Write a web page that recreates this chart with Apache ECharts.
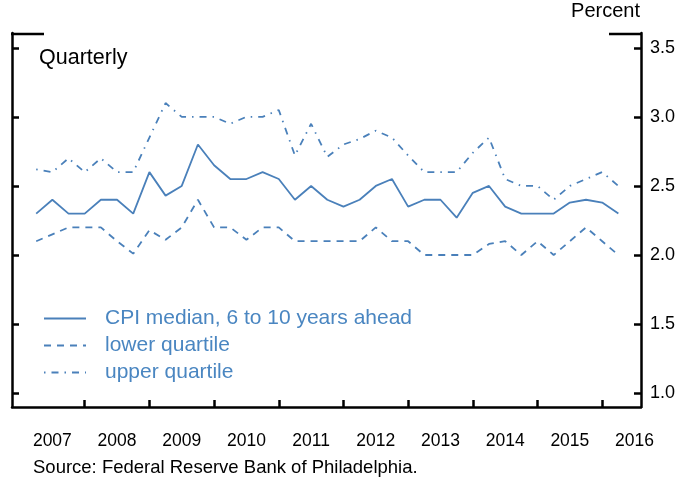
<!DOCTYPE html>
<html>
<head>
<meta charset="utf-8">
<style>
  html, body { margin: 0; padding: 0; background: #fff; }
  #chart { width: 695px; height: 483px; }
</style>
<script src="https://cdn.jsdelivr.net/npm/echarts@6/dist/echarts.min.js"></script>
</head>
<body>
<div id="chart"></div>
<script>
// quarters 2007Q1 .. 2016Q1, placed at quarter end (year + q/4)
var startYear = 2007;
var quarterCount = 37;
var medianCpi = [2.30, 2.40, 2.30, 2.30, 2.40, 2.40, 2.30, 2.60, 2.43, 2.50, 2.80, 2.65, 2.55,
                 2.55, 2.60, 2.55, 2.40, 2.50, 2.40, 2.35, 2.40, 2.50, 2.55, 2.35, 2.40, 2.40, 2.27,
                 2.45, 2.50, 2.35, 2.30, 2.30, 2.30, 2.38, 2.40, 2.38, 2.30];
var lowerQuartile = [2.10, 2.15, 2.20, 2.20, 2.20, 2.10, 2.01, 2.18, 2.11, 2.20, 2.40, 2.20, 2.20,
                     2.11, 2.20, 2.20, 2.10, 2.10, 2.10, 2.10, 2.10, 2.20, 2.10, 2.10, 2.00, 2.00, 2.00,
                     2.00, 2.08, 2.10, 2.00, 2.10, 2.00, 2.10, 2.20, 2.10, 2.00];
var upperQuartile = [2.62, 2.60, 2.70, 2.60, 2.70, 2.60, 2.60, 2.85, 3.10, 3.00, 3.00, 3.00, 2.95,
                     3.00, 3.00, 3.05, 2.72, 2.95, 2.71, 2.80, 2.84, 2.90, 2.85, 2.72, 2.60, 2.60, 2.60,
                     2.74, 2.85, 2.55, 2.50, 2.50, 2.40, 2.50, 2.55, 2.60, 2.50];
var yearLabels = [2007, 2008, 2009, 2010, 2011, 2012, 2013, 2014, 2015, 2016];
var yTicks = [1.0, 1.5, 2.0, 2.5, 3.0, 3.5];

var seriesNames = ['CPI median, 6 to 10 years ahead', 'lower quartile', 'upper quartile'];
var lineColor = '#4a80ba';
var textColor = '#4a86c1';

function toPoints(vals) {
  var out = [];
  for (var i = 0; i < quarterCount; i++) {
    out.push([startYear + (i + 1) / 4, vals[i]]);
  }
  return out;
}

var myChart = echarts.init(document.getElementById('chart'));

var axisLine = { show: true, lineStyle: { color: '#000', width: 2.5 } };
var yTick = { show: true, inside: true, length: 7, customValues: yTicks, lineStyle: { color: '#000', width: 2.5 } };

var option = {
  animation: false,
  textStyle: { fontFamily: 'Liberation Sans, Arial, sans-serif' },
  grid: { left: 12, right: 54, top: 33, bottom: 76 },
  legend: {
    orient: 'vertical',
    left: 38,
    top: 303,
    itemWidth: 42,
    itemHeight: 12,
    itemGap: 6,
    data: seriesNames,
    // 只显示线型，不显示圆点
    itemStyle: { opacity: 0 },
    textStyle: { color: textColor, fontSize: 21, padding: [0, 0, 0, 14] }
  },
  xAxis: {
    type: 'value',
    min: 2006.876,
    max: 2016.6,
    axisLine: axisLine,
    splitLine: { show: false },
    axisTick: {
      show: true, inside: true, length: 7,
      customValues: yearLabels.slice(1),
      lineStyle: { color: '#000', width: 2.5 }
    },
    axisLabel: {
      customValues: yearLabels.map(function (y) { return y + 0.5; }),
      formatter: function (v) { return String(Math.floor(v)); },
      color: '#000', fontSize: 17.5, margin: 25
    }
  },
  yAxis: [
    {
      type: 'value', position: 'right',
      min: 0.9, max: 3.607,
      axisLine: axisLine,
      splitLine: { show: false },
      axisTick: yTick,
      axisLabel: {
        customValues: yTicks,
        formatter: function (v) { return v.toFixed(1); },
        color: '#000', fontSize: 18, margin: 9
      }
    },
    {
      type: 'value', position: 'left',
      min: 0.9, max: 3.607,
      axisLine: axisLine,
      splitLine: { show: false },
      axisTick: yTick,
      axisLabel: { show: false }
    }
  ],
  graphic: [
    { type: 'line', shape: { x1: 11, y1: 34, x2: 44, y2: 34 }, style: { stroke: '#000', lineWidth: 2.5 } },
    { type: 'line', shape: { x1: 609, y1: 34, x2: 642, y2: 34 }, style: { stroke: '#000', lineWidth: 2.5 } },
    { type: 'text', left: 39, top: 47, style: { text: 'Quarterly', fill: '#000', font: '21.5px Liberation Sans, Arial, sans-serif' } },
    { type: 'text', right: 55, top: 1, style: { text: 'Percent', fill: '#000', font: '20px Liberation Sans, Arial, sans-serif' } },
    { type: 'text', left: 33, top: 458, style: { text: 'Source: Federal Reserve Bank of Philadelphia.', fill: '#000', font: '18.5px Liberation Sans, Arial, sans-serif' } }
  ],
  series: [
    {
      name: seriesNames[0], type: 'line', symbol: 'none',
      lineStyle: { color: lineColor, width: 1.8 },
      itemStyle: { color: lineColor },
      data: toPoints(medianCpi)
    },
    {
      name: seriesNames[1], type: 'line', symbol: 'none',
      lineStyle: { color: lineColor, width: 1.8, type: [7, 6] },
      itemStyle: { color: lineColor },
      data: toPoints(lowerQuartile)
    },
    {
      name: seriesNames[2], type: 'line', symbol: 'none',
      lineStyle: { color: lineColor, width: 1.8, type: [1.5, 6, 7, 6] },
      itemStyle: { color: lineColor },
      data: toPoints(upperQuartile)
    }
  ]
};

myChart.setOption(option);
window.addEventListener('resize', function () {
  myChart.resize();
});
</script>
</body>
</html>
